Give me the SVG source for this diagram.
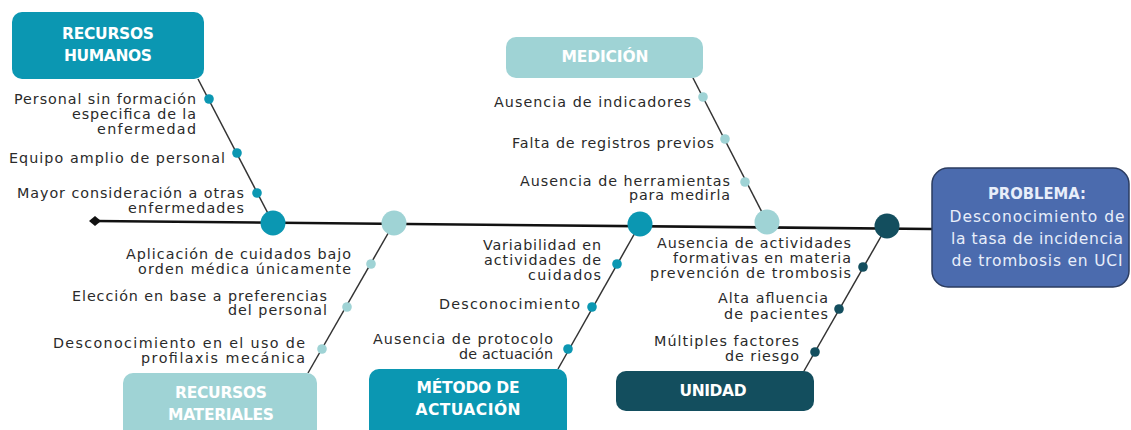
<svg xmlns="http://www.w3.org/2000/svg" width="1131" height="430" viewBox="0 0 1131 430">
<style>
.lbl{font-family:"DejaVu Sans","Liberation Sans",sans-serif;font-size:14.3px;fill:#2a2a2a;text-anchor:end}
.cat{font-family:"DejaVu Sans","Liberation Sans",sans-serif;font-size:15.5px;font-weight:bold;fill:#fff;text-anchor:middle}
.prob{font-family:"DejaVu Sans","Liberation Sans",sans-serif;font-size:15.5px;fill:#e8eefa;text-anchor:middle}
.bone{stroke:#333;stroke-width:1.5;fill:none}
.c1{fill:#0b97b2}.c2{fill:#9fd3d5}.c3{fill:#134e5e}
</style>
<rect width="1131" height="430" fill="#fff"/>
<g id="connectors">
<line x1="95" y1="221" x2="932" y2="229" stroke="#111" stroke-width="2.6"/>
<path d="M89,221 L95,216 L101,221 L95,226 Z" fill="#111"/>
<line class="bone" x1="198" y1="79" x2="273" y2="223"/>
<line class="bone" x1="693" y1="78" x2="767" y2="222"/>
<line class="bone" x1="394" y1="223" x2="308" y2="373"/>
<line class="bone" x1="640" y1="224" x2="558" y2="369"/>
<line class="bone" x1="887" y1="226" x2="804" y2="371"/>
</g>
<g id="problema">
<rect x="932" y="168" width="197" height="119" rx="16" fill="#4b6bae" stroke="#2b3c60" stroke-width="1.5"/>
<text class="prob" x="1037" y="199" font-weight="bold" fill="#fff" textLength="98" lengthAdjust="spacingAndGlyphs">PROBLEMA:</text>
<text class="prob" x="1037" y="222" textLength="175">Desconocimiento de</text>
<text class="prob" x="1037" y="244" textLength="172">la tasa de incidencia</text>
<text class="prob" x="1037" y="266" textLength="171">de trombosis en UCI</text>
</g>
<g id="recursos-humanos">
<rect x="12" y="12" width="192" height="67" rx="10" class="c1"/>
<text class="cat" x="108" y="39" textLength="92">RECURSOS</text>
<text class="cat" x="108" y="61" textLength="88">HUMANOS</text>
<circle cx="273" cy="223" r="12.5" class="c1"/>
<circle cx="209" cy="99" r="4.8" class="c1"/>
<circle cx="237" cy="153" r="4.8" class="c1"/>
<circle cx="257" cy="193" r="4.8" class="c1"/>
<text class="lbl" x="196" y="104" textLength="182">Personal sin formación</text>
<text class="lbl" x="196" y="119" textLength="124">especifica de la</text>
<text class="lbl" x="196" y="134" textLength="99">enfermedad</text>
<text class="lbl" x="225" y="163" textLength="216">Equipo amplio de personal</text>
<text class="lbl" x="244" y="198" textLength="227">Mayor consideración a otras</text>
<text class="lbl" x="244" y="213" textLength="116">enfermedades</text>
</g>
<g id="medicion">
<rect x="506" y="37" width="197" height="41" rx="10" class="c2"/>
<text class="cat" x="605" y="62" textLength="87">MEDICIÓN</text>
<circle cx="767" cy="222" r="12.5" class="c2"/>
<circle cx="703" cy="97" r="4.8" class="c2"/>
<circle cx="725" cy="139" r="4.8" class="c2"/>
<circle cx="745" cy="182" r="4.8" class="c2"/>
<text class="lbl" x="691" y="107" textLength="197">Ausencia de indicadores</text>
<text class="lbl" x="714" y="148" textLength="202">Falta de registros previos</text>
<text class="lbl" x="730" y="186" textLength="210">Ausencia de herramientas</text>
<text class="lbl" x="730" y="200" textLength="101">para medirla</text>
</g>
<g id="recursos-materiales">
<rect x="123" y="373" width="194" height="70" rx="10" class="c2"/>
<text class="cat" x="221" y="398" textLength="92">RECURSOS</text>
<text class="cat" x="221" y="420" textLength="106">MATERIALES</text>
<circle cx="394" cy="223" r="12.5" class="c2"/>
<circle cx="371" cy="264" r="4.8" class="c2"/>
<circle cx="347" cy="307" r="4.8" class="c2"/>
<circle cx="322" cy="349" r="4.8" class="c2"/>
<text class="lbl" x="351" y="259" textLength="225">Aplicación de cuidados bajo</text>
<text class="lbl" x="351" y="274" textLength="213">orden médica únicamente</text>
<text class="lbl" x="327" y="301" textLength="255">Elección en base a preferencias</text>
<text class="lbl" x="327" y="315" textLength="99">del personal</text>
<text class="lbl" x="305" y="348" textLength="252">Desconocimiento en el uso de</text>
<text class="lbl" x="305" y="363" textLength="164">profilaxis mecánica</text>
</g>
<g id="metodo-actuacion">
<rect x="369" y="369" width="198" height="74" rx="10" class="c1"/>
<text class="cat" x="468" y="393" textLength="103">MÉTODO DE</text>
<text class="cat" x="468" y="415" textLength="105">ACTUACIÓN</text>
<circle cx="640" cy="224" r="12.5" class="c1"/>
<circle cx="617" cy="264" r="4.8" class="c1"/>
<circle cx="592" cy="307" r="4.8" class="c1"/>
<circle cx="568" cy="349" r="4.8" class="c1"/>
<text class="lbl" x="601" y="250" textLength="118">Variabilidad en</text>
<text class="lbl" x="601" y="265" textLength="117">actividades de</text>
<text class="lbl" x="601" y="280" textLength="73">cuidados</text>
<text class="lbl" x="580" y="309" textLength="141">Desconocimiento</text>
<text class="lbl" x="553" y="344" textLength="180">Ausencia de protocolo</text>
<text class="lbl" x="553" y="359" textLength="94">de actuación</text>
</g>
<g id="unidad">
<rect x="616" y="371" width="198" height="40" rx="10" class="c3"/>
<text class="cat" x="713" y="396" textLength="67">UNIDAD</text>
<circle cx="887" cy="226" r="12.5" class="c3"/>
<circle cx="863" cy="267" r="4.8" class="c3"/>
<circle cx="839" cy="309" r="4.8" class="c3"/>
<circle cx="815" cy="352" r="4.8" class="c3"/>
<text class="lbl" x="851" y="248" textLength="194">Ausencia de actividades</text>
<text class="lbl" x="851" y="263" textLength="178">formativas en materia</text>
<text class="lbl" x="851" y="278" textLength="201">prevención de trombosis</text>
<text class="lbl" x="828" y="303" textLength="110">Alta afluencia</text>
<text class="lbl" x="828" y="319" textLength="104">de pacientes</text>
<text class="lbl" x="799" y="346" textLength="145">Múltiples factores</text>
<text class="lbl" x="799" y="361" textLength="74">de riesgo</text>
</g>
</svg>
